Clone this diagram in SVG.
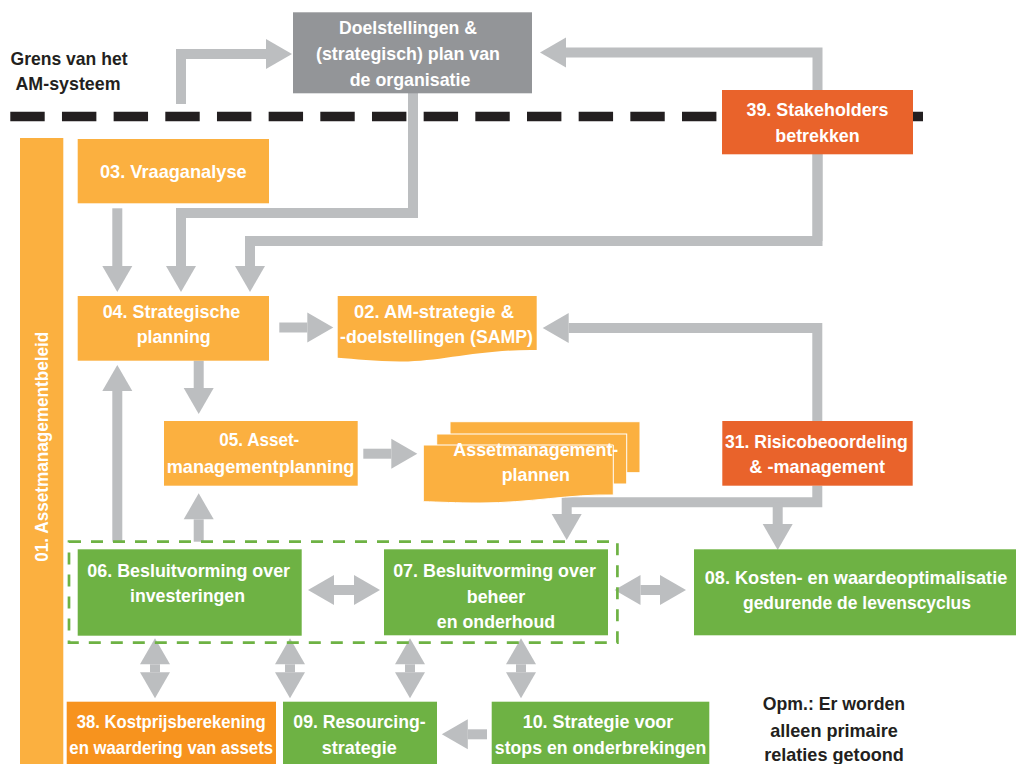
<svg xmlns="http://www.w3.org/2000/svg" width="1016" height="764" viewBox="0 0 1016 764">
<style>
.t{font-family:"Liberation Sans",Arial,sans-serif;font-weight:bold;font-size:18.5px;fill:#fff;text-anchor:middle}
.d{fill:#231f20}
.y{fill:#fbb040}
.o{fill:#f7931e}
.r{fill:#e9632b}
.g{fill:#6eb244}
.c{fill:none;stroke:#bcbec0;stroke-width:10;stroke-linejoin:miter}
.a{marker-end:url(#ah)}
.b{marker-start:url(#ah);marker-end:url(#ah)}
</style>
<defs>
<marker id="ah" markerUnits="userSpaceOnUse" markerWidth="30" markerHeight="32" refX="0" refY="16" orient="auto-start-reverse" overflow="visible">
<path d="M0,1 L26,16 L0,31 Z" fill="#bcbec0"/>
</marker>
</defs>
<rect width="1016" height="764" fill="#fff"/>
<g id="boundary">
<line x1="10.3" y1="116.5" x2="923" y2="116.5" stroke="#231f20" stroke-width="9.5" stroke-dasharray="34.4 17.27"/>
<text class="t d" x="69" y="64.5" textLength="117" lengthAdjust="spacingAndGlyphs">Grens van het</text>
<text class="t d" x="68" y="89.5" textLength="105" lengthAdjust="spacingAndGlyphs">AM-systeem</text>
</g>
<g id="connectors">
<path class="c a" d="M181,104 V54 H266"/>
<path class="c a" d="M817.5,241 V52.5 H566"/>
<path class="c a" d="M817.5,150 V241 H250 V266"/>
<path class="c a" d="M413,93 V213 H181 V266"/>
<path class="c a" d="M117.3,208.3 V266"/>
<path class="c a" d="M279.3,327.5 H307.3"/>
<path class="c a" d="M817.3,421 V328 H568.7"/>
<path class="c a" d="M198.7,360.7 V388"/>
<path class="c a" d="M117.3,541.7 V391"/>
<path class="c a" d="M198.7,541.7 V519.3"/>
<path class="c a" d="M363.3,453.7 H391.3"/>
<path class="c a" d="M817.3,485.7 V502.3 H566.7 V514"/>
<path class="c a" d="M777.7,502.3 V524"/>
<path class="c b" d="M334,590 H354"/>
<path class="c b" d="M640.5,590 H660"/>
<path class="c b" d="M155,664.3 V672.3"/>
<path class="c b" d="M290,664.3 V672.3"/>
<path class="c b" d="M410,664.3 V672.3"/>
<path class="c b" d="M521,664.3 V672.3"/>
<path class="c a" d="M487,734.3 H467.8"/>
</g>
<g id="n00">
<rect x="293" y="12.3" width="239" height="81" fill="#939598"/>
<text class="t" x="408" y="33.5" textLength="138" lengthAdjust="spacingAndGlyphs">Doelstellingen &amp;</text>
<text class="t" x="408" y="59.5" textLength="184" lengthAdjust="spacingAndGlyphs">(strategisch) plan van</text>
<text class="t" x="410" y="85.5" textLength="120.6" lengthAdjust="spacingAndGlyphs">de organisatie</text>
</g>
<g id="n39">
<rect class="r" x="722" y="90" width="191" height="64.3"/>
<text class="t" x="817.5" y="116" textLength="142" lengthAdjust="spacingAndGlyphs">39. Stakeholders</text>
<text class="t" x="817.5" y="142" textLength="84.3" lengthAdjust="spacingAndGlyphs">betrekken</text>
</g>
<g id="n01">
<rect class="y" x="20" y="138" width="43.3" height="626"/>
<text class="t" transform="translate(48,446.7) rotate(-90)" x="0" y="0" textLength="230" lengthAdjust="spacingAndGlyphs">01. Assetmanagementbeleid</text>
</g>
<g id="n03">
<rect class="y" x="77.7" y="139" width="191.3" height="64.3"/>
<text class="t" x="173.3" y="177.7" textLength="146.7" lengthAdjust="spacingAndGlyphs">03. Vraaganalyse</text>
</g>
<g id="n04">
<rect class="y" x="77.7" y="296" width="191.3" height="64.7"/>
<text class="t" x="171.5" y="317.7" textLength="137.7" lengthAdjust="spacingAndGlyphs">04. Strategische</text>
<text class="t" x="173.7" y="343.3" textLength="74" lengthAdjust="spacingAndGlyphs">planning</text>
</g>
<g id="n02">
<path class="y" d="M337.7,296 H536.7 V350 C480,349 440,362 400,361.5 C375,361 355,359 337.7,357.7 Z"/>
<text class="t" x="434" y="318.3" textLength="160" lengthAdjust="spacingAndGlyphs">02. AM-strategie &amp;</text>
<text class="t" x="436.5" y="343.3" textLength="193" lengthAdjust="spacingAndGlyphs">-doelstellingen (SAMP)</text>
</g>
<g id="n05">
<rect class="y" x="164" y="421" width="193.7" height="64.7"/>
<text class="t" x="259.3" y="446" textLength="80" lengthAdjust="spacingAndGlyphs">05. Asset-</text>
<text class="t" x="260.5" y="472.7" textLength="187.7" lengthAdjust="spacingAndGlyphs">managementplanning</text>
</g>
<g id="nplans">
<rect class="y" x="450" y="421.7" width="190" height="51" stroke="#fff" stroke-width="1"/>
<rect class="y" x="436.7" y="434" width="190" height="50" stroke="#fff" stroke-width="1"/>
<path class="y" d="M423.3,445 H613.3 V495 C570,494 530,503 480,503 C455,503 440,502 423.3,501.7 Z" stroke="#fff" stroke-width="1"/>
<text class="t" x="535.8" y="456" textLength="165" lengthAdjust="spacingAndGlyphs">Assetmanagement-</text>
<text class="t" x="535.8" y="481" textLength="68.3" lengthAdjust="spacingAndGlyphs">plannen</text>
</g>
<g id="n31">
<rect class="r" x="722.3" y="421" width="190.4" height="64.7"/>
<text class="t" x="816.3" y="447.7" textLength="182.7" lengthAdjust="spacingAndGlyphs">31. Risicobeoordeling</text>
<text class="t" x="817.2" y="472.7" textLength="135.7" lengthAdjust="spacingAndGlyphs">&amp; -management</text>
</g>
<g id="group0607">
<rect x="69" y="541.7" width="548.4" height="101" fill="none" stroke="#6eb244" stroke-width="2.7" stroke-dasharray="12 10"/>
</g>
<g id="n06">
<rect class="g" x="77.7" y="549.3" width="224" height="86.4"/>
<text class="t" x="188.7" y="576.7" textLength="202.7" lengthAdjust="spacingAndGlyphs">06. Besluitvorming over</text>
<text class="t" x="187.5" y="602" textLength="115" lengthAdjust="spacingAndGlyphs">investeringen</text>
</g>
<g id="n07">
<rect class="g" x="384" y="549.3" width="224" height="86"/>
<text class="t" x="494.5" y="576.7" textLength="202.7" lengthAdjust="spacingAndGlyphs">07. Besluitvorming over</text>
<text class="t" x="496" y="603" textLength="58.4" lengthAdjust="spacingAndGlyphs">beheer</text>
<text class="t" x="496" y="627.7" textLength="118.3" lengthAdjust="spacingAndGlyphs">en onderhoud</text>
</g>
<g id="n08">
<rect class="g" x="694" y="549.3" width="322" height="86"/>
<text class="t" x="856" y="584.3" textLength="302.6" lengthAdjust="spacingAndGlyphs">08. Kosten- en waardeoptimalisatie</text>
<text class="t" x="857" y="609.3" textLength="228" lengthAdjust="spacingAndGlyphs">gedurende de levenscyclus</text>
</g>
<g id="n38">
<rect class="o" x="66.7" y="701.7" width="209.3" height="62.3"/>
<text class="t" x="171.2" y="728.3" textLength="189" lengthAdjust="spacingAndGlyphs">38. Kostprijsberekening</text>
<text class="t" x="171.2" y="754.3" textLength="203.7" lengthAdjust="spacingAndGlyphs">en waardering van assets</text>
</g>
<g id="n09">
<rect class="g" x="283" y="701.7" width="154" height="62.3"/>
<text class="t" x="359.5" y="728.3" textLength="132.3" lengthAdjust="spacingAndGlyphs">09. Resourcing-</text>
<text class="t" x="359.2" y="754.3" textLength="75" lengthAdjust="spacingAndGlyphs">strategie</text>
</g>
<g id="n10">
<rect class="g" x="491.7" y="701.7" width="217.6" height="62.3"/>
<text class="t" x="598" y="728.3" textLength="150.7" lengthAdjust="spacingAndGlyphs">10. Strategie voor</text>
<text class="t" x="600.5" y="754.3" textLength="211.4" lengthAdjust="spacingAndGlyphs">stops en onderbrekingen</text>
</g>
<g id="note">
<text class="t d" x="834" y="710" textLength="142.3" lengthAdjust="spacingAndGlyphs">Opm.: Er worden</text>
<text class="t d" x="834" y="736.7" textLength="127.6" lengthAdjust="spacingAndGlyphs">alleen primaire</text>
<text class="t d" x="834" y="761" textLength="139.7" lengthAdjust="spacingAndGlyphs">relaties getoond</text>
</g>
</svg>
